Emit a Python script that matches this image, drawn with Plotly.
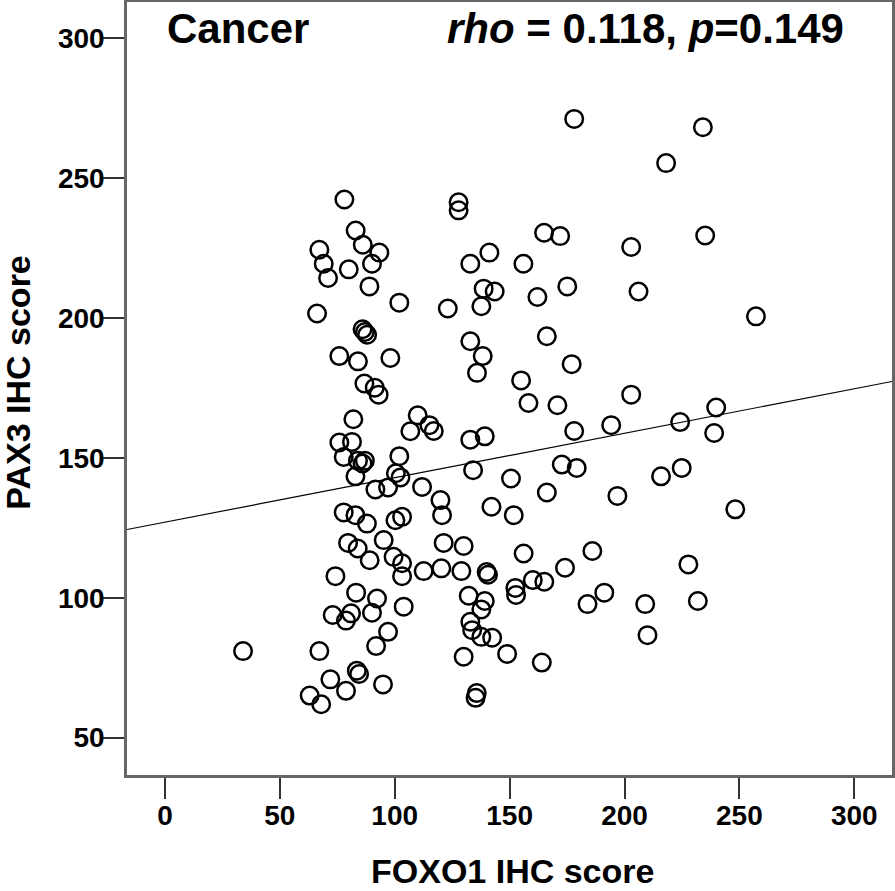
import plotly.graph_objects as go

# FOXO1 IHC score (x) and PAX3 IHC score (y)
foxo1 = [78.1, 127.8, 127.8, 83.0, 67.2, 86.1, 93.3, 69.1, 90.1, 71.0,
         80.0, 89.0, 141.2, 132.9, 156.0, 138.7, 143.5, 137.7, 102.0, 123.1,
         66.2, 86.0, 87.0, 88.0, 75.9, 84.0, 98.1, 132.9, 138.3, 135.8,
         86.8, 91.3, 93.0, 155.0, 158.2, 82.0, 110.0,
         106.8, 115.1, 117.0, 75.9, 81.4, 77.8, 84.0, 86.0, 87.0, 82.9,
         102.0, 100.5, 102.5, 91.6, 97.1, 111.9, 119.9, 120.6, 134.1, 132.9,
         139.2, 150.6, 142.1, 151.8, 77.8, 82.9, 87.9, 100.3, 103.2, 79.7,
         83.9, 89.1, 95.2, 99.5, 103.2, 103.2, 112.6, 120.3, 121.3, 130.0,
         129.0, 140.0, 140.6, 156.1, 152.5, 152.8, 74.2, 83.2, 92.3, 73.0,
         81.0, 78.8, 90.1, 103.9, 97.1, 91.9, 132.2, 139.2, 137.7, 132.9,
         133.7, 137.7, 142.4, 130.0, 148.9, 135.7, 135.2, 34.0, 67.2, 72.0,
         83.5, 84.5, 78.8, 94.9, 63.0, 68.0,
         178.1, 234.1, 218.1, 165.0, 172.0, 235.1, 202.9, 162.1, 175.1, 206.1,
         257.2, 166.2, 177.0, 170.8, 202.9, 239.9, 178.1, 194.2, 224.2, 239.0,
         172.7, 179.2, 215.9, 224.9, 166.2, 196.9, 248.2, 186.0, 174.1, 160.1,
         165.1, 227.8, 191.2, 183.9, 209.0, 231.9, 210.0, 164.0]
pax3 = [242.4, 241.4, 238.5, 231.3, 224.4, 226.2, 223.4, 219.4, 219.4, 214.3,
        217.4, 211.3, 223.4, 219.4, 219.4, 210.5, 209.5, 204.2, 205.5, 203.4,
        201.6, 196.0, 195.0, 194.0, 186.4, 184.5, 185.7, 191.7, 186.4, 180.4,
        176.6, 175.1, 172.6, 177.7, 169.6, 163.8, 165.2,
        159.5, 161.7, 159.6, 155.5, 155.7, 150.3, 149.0, 148.0, 149.0, 143.4,
        150.6, 144.5, 143.0, 138.7, 139.4, 139.6, 134.9, 129.5, 145.6, 156.5,
        157.7, 142.6, 132.5, 129.5, 130.5, 129.5, 126.5, 127.7, 128.9, 119.6,
        117.6, 113.4, 120.6, 114.6, 112.3, 107.7, 109.5, 110.5, 119.6, 118.5,
        109.5, 109.2, 108.2, 115.8, 103.5, 101.0, 107.7, 101.8, 99.7, 93.8,
        94.4, 91.8, 94.6, 96.8, 87.8, 82.7, 100.7, 98.8, 95.8, 91.4,
        88.4, 86.0, 85.7, 78.9, 79.9, 65.9, 64.2, 80.9, 80.9, 70.8,
        73.9, 72.7, 66.7, 69.0, 65.0, 61.9,
        271.2, 268.2, 255.4, 230.5, 229.3, 229.5, 225.4, 207.5, 211.3, 209.5,
        200.6, 193.5, 183.5, 168.8, 172.6, 168.0, 159.6, 161.7, 162.8, 158.9,
        147.6, 146.4, 143.4, 146.4, 137.6, 136.4, 131.6, 116.7, 110.7, 106.3,
        105.7, 111.9, 101.8, 97.7, 97.7, 98.8, 86.6, 76.8]

# Fit line (intercept, slope) as drawn in the picture
fit_intercept = 127.0
fit_slope = 0.159

x_range = [-16.5, 316.4]
y_range = [36.6, 313.0]
x_ticks = [0, 50, 100, 150, 200, 250, 300]
y_ticks = [50, 100, 150, 200, 250, 300]

group_label = "Cancer"
stat_label = "<b><i>rho</i> = 0.118, <i>p</i>=0.149</b>"
x_title = "FOXO1 IHC score"
y_title = "PAX3 IHC score"

FONT = "Liberation Sans, Arial, sans-serif"

fig = go.Figure()
fig.add_trace(go.Scatter(
    x=x_range,
    y=[fit_intercept + fit_slope * v for v in x_range],
    mode="lines", line=dict(color="black", width=1.2),
    hoverinfo="skip", showlegend=False))
fig.add_trace(go.Scatter(
    x=foxo1, y=pax3, mode="markers",
    marker=dict(symbol="circle-open", size=17.5, color="black",
                line=dict(color="black", width=2.5)),
    showlegend=False))

axis_common = dict(
    showgrid=False, zeroline=False, showline=True, mirror=True,
    linecolor="#666666", linewidth=2.5, automargin=False,
    ticks="outside", ticklen=21, tickwidth=1.5, tickcolor="#333333",
    ticklabelstandoff=-7,
    tickfont=dict(family=FONT, size=28, color="black", weight="bold"),
)
fig.update_xaxes(range=x_range, tickvals=x_ticks, **axis_common)
fig.update_yaxes(range=y_range, tickvals=y_ticks, **axis_common)

fig.add_annotation(text="<b>" + group_label + "</b>", xref="paper", yref="paper",
                   x=0.0497, y=0.9658, xanchor="left", yanchor="middle",
                   showarrow=False, font=dict(family=FONT, size=42, color="black"))
fig.add_annotation(text=stat_label, xref="paper", yref="paper",
                   x=0.416, y=0.9658, xanchor="left", yanchor="middle",
                   showarrow=False, font=dict(family=FONT, size=42, color="black"))
fig.add_annotation(text="<b>" + x_title + "</b>", xref="paper", yref="paper",
                   x=0.504, y=-0.1245, xanchor="center", yanchor="middle",
                   showarrow=False, font=dict(family=FONT, size=34, color="black"))
fig.add_annotation(text="<b>" + y_title + "</b>", xref="paper", yref="paper",
                   x=-0.1420, y=0.508, xanchor="center", yanchor="middle",
                   textangle=-90, showarrow=False,
                   font=dict(family=FONT, size=34, color="black"))

fig.update_layout(
    width=895, height=891,
    margin=dict(l=127, r=3, t=2, b=116, pad=0, autoexpand=False),
    paper_bgcolor="white", plot_bgcolor="white",
    showlegend=False,
)
fig.write_html(
    "out.html",
    config={"displayModeBar": False},
    post_script="document.body.style.margin='0';"
                "document.body.style.padding='0';"
                "document.body.style.overflow='hidden';",
)
